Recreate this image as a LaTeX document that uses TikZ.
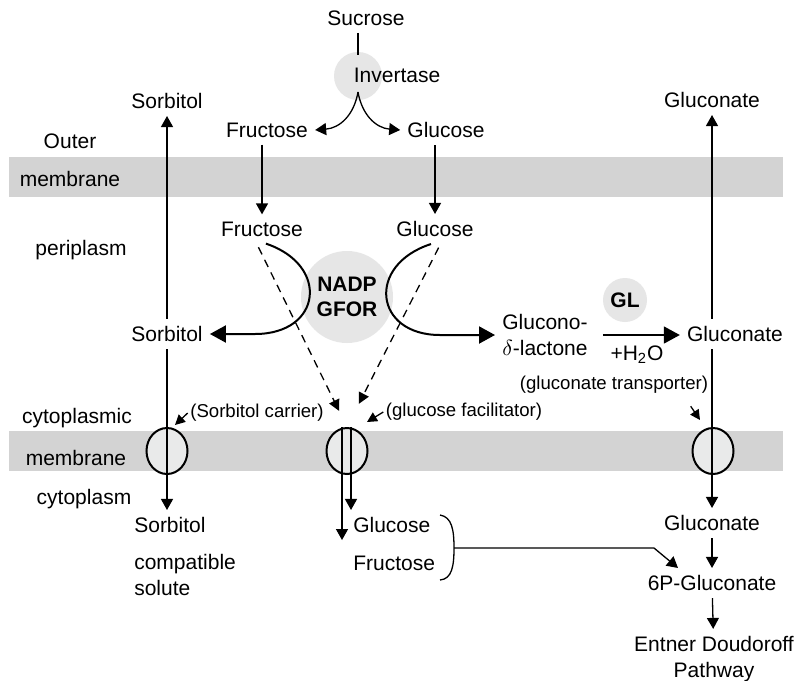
\documentclass[tikz,border=0pt]{standalone}
\usepackage{fontspec}
\setmainfont{Liberation Sans}
\usetikzlibrary{arrows.meta,shapes.geometric}
\definecolor{bandgray}{HTML}{D3D3D3}
\definecolor{enzgray}{HTML}{E6E6E6}
\definecolor{cargray}{HTML}{E9EAEA}

\begin{document}
\begin{tikzpicture}[x=0.5pt,y=-0.5pt,line width=0.65pt,font=\fontsize{10.5}{13}\selectfont]
    \tikzstyle{band}=[fill=bandgray]
    \tikzstyle{enzyme}=[circle,fill=enzgray,inner sep=0pt]
    \tikzstyle{carrier}=[ellipse,draw=black,line width=1pt,fill=cargray,minimum width=20.5pt,minimum height=23pt,inner sep=0pt]
    \tikzstyle{smalltext}=[font=\fontsize{9.3}{11}\selectfont,inner sep=1pt]
    \tikzstyle{arr}=[-{Triangle[length=5.5pt,width=6pt]}]
    \tikzstyle{bigarr}=[line width=1pt,-{Triangle[length=8pt,width=8.5pt]}]
    \tikzstyle{dasharr}=[dash pattern=on 4pt off 3pt,-{Triangle[length=5.5pt,width=5.5pt]}]
    \tikzstyle{ptr}=[-{Triangle[length=5pt,width=5pt]}]

    \useasboundingbox (0,0) rectangle (796,680);
    \fill[white] (0,0) rectangle (796,680);

    % membranes
    \fill[band] (9,157) rectangle (783,197);
    \fill[band] (9,431) rectangle (783,471);

    % enzymes
    \node[enzyme,minimum size=24pt] (invertase) at (358,76) {};
    \node[enzyme,minimum size=46pt,align=center,font=\fontsize{10.5}{12.5}\selectfont\bfseries] (gfor) at (347,297) {NADP\\GFOR};
    \node[enzyme,minimum size=22pt,font=\fontsize{10.5}{13}\selectfont\bfseries] (gl) at (625,300) {GL};

    % carriers
    \foreach \name/\x in {sorbc/167, glcf/347, glcnt/713}
        \node[carrier] (\name) at (\x,451) {};

    % compartment labels
    \foreach \name/\x/\y/\txt in {outer/70/141/Outer, omem/70/179/membrane, peri/81/250/periplasm,
                                  cmemtop/77/418/cytoplasmic, cmem/76/458/membrane, cyto/84/499/cytoplasm}
        \node (\name) at (\x,\y) {\txt};

    % metabolites
    \foreach \name/\x/\y/\txt in {suc/366/18/Sucrose, invtxt/397/75/Invertase,
                                  fru-top/267/130/Fructose, glc-top/446/130/Glucose,
                                  fru-mid/262/229/Fructose, glc-mid/435/229/Glucose,
                                  sorb-top/167/101/Sorbitol, sorb-mid/167/334/Sorbitol,
                                  glcn-top/712/100/Gluconate, glcn-mid/735/334/Gluconate,
                                  glcn-bot/712/523/Gluconate, p6g/712/583/6P-Gluconate}
        \node (\name) at (\x,\y) {\txt};

    \node[anchor=west,align=left] (lactone) at (495,335) {Glucono-\\$\delta$-lactone};
    \node (h2o) at (637,355) {+H\textsubscript{2}O};
    \node[align=center] (ed) at (714,659) {Entner Doudoroff\\Pathway};

    \node[anchor=west] (sorb-bot) at (127,525) {Sorbitol};
    \node[anchor=west,align=left] (compat) at (127,575) {compatible\\solute};
    \node[anchor=west] (glc-bot) at (346,525) {Glucose};
    \node[anchor=west] (fru-bot) at (346,563) {Fructose};

    \node[smalltext] (sc) at (257,413) {(Sorbitol carrier)};
    \node[smalltext] (gf) at (464,412) {(glucose facilitator)};
    \node[smalltext] (gt) at (614,385) {(gluconate transporter)};

    % invertase
    \draw (invertase.north |- suc.south) -- ([yshift=-2pt]invertase.north);
    \coordinate (split) at (358,92);
    \draw[arr] (split) .. controls (354,115) and (340,128) .. (fru-top.east);
    \draw[arr] (split) .. controls (362,115) and (376,128) .. (glc-top.west);

    % across the outer membrane
    \draw[arr] (fru-mid.north |- fru-top.south) -- (fru-mid.north);
    \draw[arr] (glc-mid.north |- glc-top.south) -- (glc-mid.north);
    \draw[arr] (sorb-mid) -- (sorb-top);
    \draw[arr] (glcn-top.south |- glcn-mid.north) -- (glcn-top.south);

    % GFOR
    \draw[bigarr] (fru-mid.-75) .. controls (330,265) and (322,334) .. (255,334) -- (sorb-mid.east);
    \draw[bigarr] (glc-mid.-105) .. controls (366,265) and (374,335) .. (440,335) -- (lactone.west);
    \draw[line width=0.8pt,-{Triangle[length=8pt,width=8.5pt]},shorten <=4pt] (lactone.east) -- (lactone.east -| glcn-mid.west);

    % facilitated uptake
    \draw[dasharr,shorten <=2pt,shorten >=9pt] (fru-mid.-110) -- (glcf.north);
    \draw[dasharr,shorten <=2pt,shorten >=13pt] (glc-mid.-70) -- (glcf.north);

    \coordinate (sc-tip) at (175,425);
    \coordinate (gf-tip) at (367,422);
    \coordinate (gt-tip) at (700,420);
    \draw[ptr] (sc.west) -- (sc-tip);
    \draw[ptr] (gf.west) -- (gf-tip);
    \draw[ptr] ([xshift=-10pt,yshift=-5pt]gt.south east) -- (gt-tip);

    % across the cytoplasmic membrane
    \draw[arr] (sorb-mid.south) -- (sorb-mid.south |- sorb-bot.north);
    \coordinate (glcf-l) at ([xshift=-2.5pt]glcf.north);
    \coordinate (glcf-r) at ([xshift=2pt]glcf.north);
    \draw[arr] (glcf-l) -- (glcf-l |- glc-bot.south);
    \draw[arr] (glcf-r) -- (glcf-r |- glc-bot.north);
    \draw[arr] (glcn-bot.north |- glcn-mid.south) -- (glcn-bot.north);

    \foreach \from/\to in {glcn-bot/p6g, p6g/ed}
        \draw[arr] (\from) -- (\to);

    % glucose + fructose to 6P-gluconate
    \coordinate (brk-top) at (440,515);
    \coordinate (brk-bot) at (440,580);
    \coordinate (brk) at (454,548);
    \draw (brk-top) .. controls (452,517) and (454,530) .. (brk) .. controls (454,566) and (452,579) .. (brk-bot);
    \draw[arr] (brk) -- ++(100pt,0) -- ([xshift=-17pt]p6g.north);
\end{tikzpicture}
\end{document}
